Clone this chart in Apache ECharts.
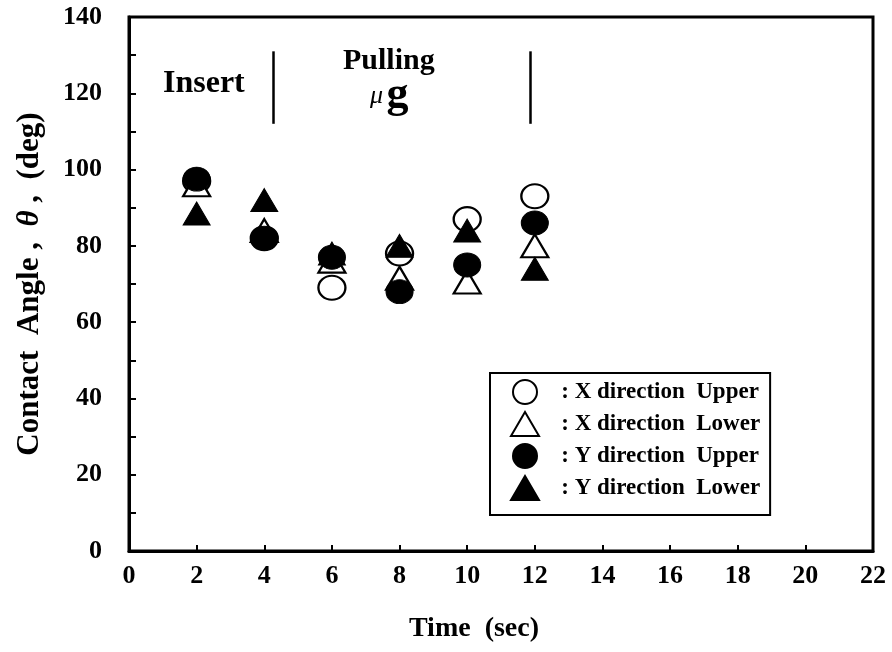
<!DOCTYPE html>
<html>
<head>
<meta charset="utf-8">
<script src="https://cdn.jsdelivr.net/npm/echarts@6/dist/echarts.min.js"></script>
<style>
  html, body { margin: 0; padding: 0; background: #fff; }
  #chart { width: 892px; height: 652px; }
</style>
</head>
<body>
<div id="chart"></div>
<script>
// time (sec) of each measurement
var times = [2, 4, 6, 8, 10, 12]
// contact angle (deg)
var xUpper = [97, 82, 69, 78, 87, 93]
var xLower = [96, 84, 76, 71.5, 70.5, 80]
var yUpper = [97.5, 82, 77, 68, 75, 86]
var yLower = [88.5, 92, 78, 80, 84, 74]
var seriesNames = ['X direction Upper', 'X direction Lower', 'Y direction Upper', 'Y direction Lower']
// phase borders (x) and their vertical extent (y)
var phaseLines = [4.26, 11.86]
var phaseSpan = [112, 131]

var font = 'Liberation Serif'

function pairs (vals) {
  return times.map(function (t, i) { return [t, vals[i]] })
}

var openStyle = { color: '#fff', borderColor: '#000', borderWidth: 2.2, opacity: 1 }
var fillStyle = { color: '#000', borderColor: '#000', borderWidth: 1, opacity: 1 }

var option = {
  backgroundColor: '#fff',
  animation: false,
  grid: {
    left: 129,
    right: 19,
    top: 17,
    bottom: 101,
    show: true,
    borderColor: '#000',
    borderWidth: 3
  },
  legend: {
    orient: 'vertical',
    left: 490,
    top: 373,
    padding: [6, 10, 14, 20],
    itemGap: 6,
    itemWidth: 28,
    itemHeight: 24,
    borderColor: '#000',
    borderWidth: 2,
    data: seriesNames,
    formatter: function (name) {
      return '\u00a0\u00a0\u00a0: ' + name.replace(' U', '  U').replace(' L', '  L')
    },
    textStyle: { fontFamily: font, fontWeight: 'bold', fontSize: 23, color: '#000' }
  },
  xAxis: {
    type: 'value',
    min: 0,
    max: 22,
    interval: 2,
    name: 'Time  (sec)',
    nameLocation: 'middle',
    nameGap: 64,
    nameTextStyle: { fontFamily: font, fontWeight: 'bold', fontSize: 28, color: '#000', padding: [0, 54, 0, 0] },
    axisLine: { lineStyle: { color: '#000', width: 3 } },
    axisTick: { inside: true, length: 6, lineStyle: { color: '#000', width: 2 } },
    axisLabel: { margin: 12, fontFamily: font, fontWeight: 'bold', fontSize: 26, color: '#000' },
    splitLine: { show: false }
  },
  yAxis: {
    type: 'value',
    min: 0,
    max: 140,
    interval: 20,
    name: 'Contact  Angle ,  {i|θ} ,  (deg)',
    nameLocation: 'middle',
    nameRotate: 90,
    nameGap: 84,
    nameTextStyle: {
      fontFamily: font, fontWeight: 'bold', fontSize: 31, color: '#000',
      rich: { i: { fontFamily: font, fontStyle: 'italic', fontWeight: 'bold', fontSize: 31, color: '#000' } }
    },
    axisLine: { lineStyle: { color: '#000', width: 3 } },
    axisTick: { inside: true, length: 7, lineStyle: { color: '#000', width: 2 } },
    minorTick: { show: true, splitNumber: 2, length: 7, lineStyle: { color: '#000', width: 2 } },
    axisLabel: { margin: 27, fontFamily: font, fontWeight: 'bold', fontSize: 26, color: '#000' },
    splitLine: { show: false }
  },
  graphic: [
    {
      type: 'text', left: 163, top: 68,
      style: { text: 'Insert', fontFamily: font, fontWeight: 'bold', fontSize: 32, fill: '#000' }
    },
    {
      type: 'text', left: 343, top: 46,
      style: { text: 'Pulling', fontFamily: font, fontWeight: 'bold', fontSize: 30, fill: '#000' }
    },
    {
      type: 'text', left: 370, top: 74,
      style: {
        text: '{m|μ} {g|g}',
        rich: {
          m: { fontFamily: font, fontStyle: 'italic', fontSize: 26, fill: '#000' },
          g: { fontFamily: font, fontWeight: 'bold', fontSize: 44, fill: '#000' }
        }
      }
    }
  ],
  series: [
    {
      name: seriesNames[0],
      type: 'scatter',
      symbol: 'circle',
      symbolSize: [27, 24],
      itemStyle: openStyle,
      data: pairs(xUpper),
      markLine: {
        silent: true,
        symbol: 'none',
        label: { show: false },
        lineStyle: { color: '#000', width: 2.5, type: 'solid', opacity: 1 },
        data: phaseLines.map(function (x) {
          return [{ coord: [x, phaseSpan[0]] }, { coord: [x, phaseSpan[1]] }]
        })
      }
    },
    {
      name: seriesNames[1],
      type: 'scatter',
      symbol: 'triangle',
      symbolSize: [27, 23],
      itemStyle: openStyle,
      data: pairs(xLower)
    },
    {
      name: seriesNames[2],
      type: 'scatter',
      symbol: 'circle',
      symbolSize: [27, 24],
      itemStyle: fillStyle,
      data: pairs(yUpper)
    },
    {
      name: seriesNames[3],
      type: 'scatter',
      symbol: 'triangle',
      symbolSize: [27, 23],
      itemStyle: fillStyle,
      data: pairs(yLower)
    }
  ]
}

var chart = echarts.init(document.getElementById('chart'))
chart.setOption(option)
window.addEventListener('resize', function () { chart.resize() })
</script>
</body>
</html>
